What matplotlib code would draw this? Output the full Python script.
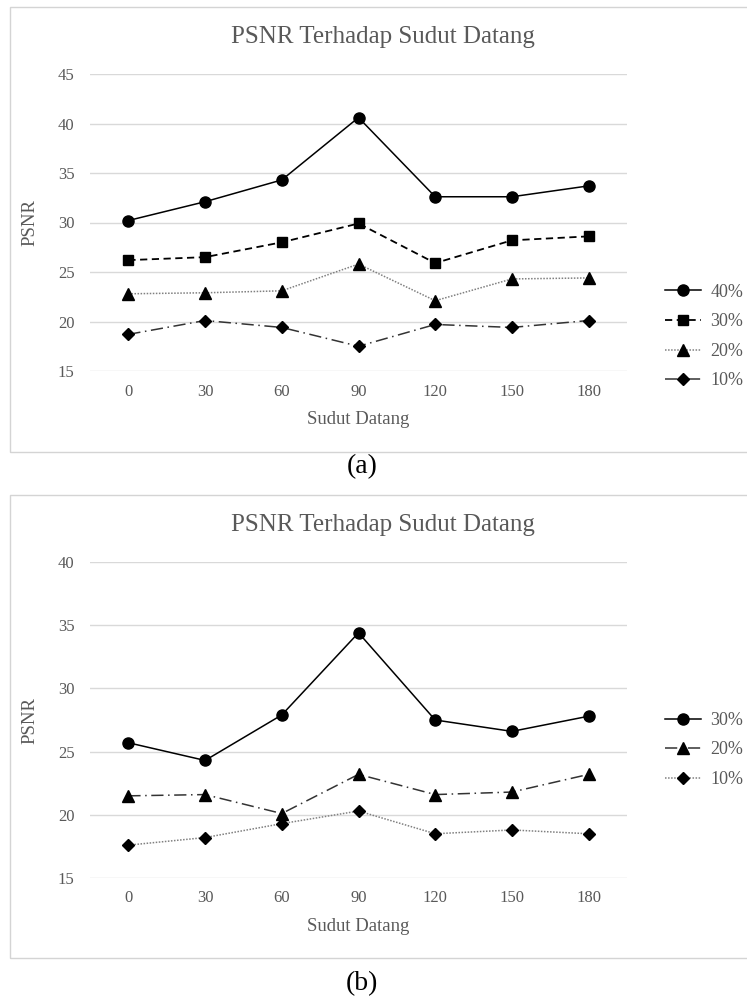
import matplotlib.pyplot as plt
from matplotlib.patches import Rectangle

plt.rcParams['font.family'] = ['Liberation Serif', 'DejaVu Serif']

# Data
SUDUT = ['0', '30', '60', '90', '120', '150', '180']

# (a)
a_40 = [30.2, 32.1, 34.3, 40.6, 32.6, 32.6, 33.7]
a_30 = [26.2, 26.5, 28.0, 29.9, 25.9, 28.2, 28.6]
a_20 = [22.8, 22.9, 23.1, 25.8, 22.1, 24.3, 24.4]
a_10 = [18.7, 20.1, 19.4, 17.5, 19.7, 19.4, 20.1]

# (b)
b_30 = [25.7, 24.3, 27.9, 34.4, 27.5, 26.6, 27.8]
b_20 = [21.5, 21.6, 20.1, 23.2, 21.6, 21.8, 23.2]
b_10 = [17.6, 18.2, 19.3, 20.3, 18.5, 18.8, 18.5]

GRIS = '#595959'
W, H = 747, 1000


def fx(px):
    return px / W


def fy(py):
    return 1 - py / H


def panel(fig, top_px, bot_px, ylim, series, caja, titulo_y, leg_y, cap_y, cap):
    # caja de la grafica
    fig.patches.append(Rectangle((fx(9.5), fy(caja[1])), fx(760) - fx(9.5), fy(caja[0]) - fy(caja[1]),
                                 transform=fig.transFigure, fill=False, edgecolor='#d4d4d4', lw=1.0))
    ax = fig.add_axes([fx(90), fy(bot_px), fx(627) - fx(90), fy(top_px) - fy(bot_px)])
    x = list(range(len(SUDUT)))
    for s in series:
        ax.plot(x, s['y'], color=s['color'], linestyle=s['ls'], lw=s['lw'],
                marker=s['m'], markersize=s['ms'], markerfacecolor='black',
                markeredgecolor='black', label=s['label'])
    ax.set_xlim(-0.5, 6.5)
    ax.set_ylim(*ylim)
    ax.set_yticks(range(ylim[0], ylim[1] + 1, 5))
    ax.set_xticks(x)
    ax.set_xticklabels(SUDUT)
    ax.grid(axis='y', color='#d9d9d9', lw=1.0)
    ax.set_axisbelow(True)
    for sp in ax.spines.values():
        sp.set_visible(False)
    ax.tick_params(length=0, labelsize=12, labelcolor=GRIS)
    ax.tick_params(axis='y', pad=11)
    ax.tick_params(axis='x', pad=9)
    ax.set_xlabel('Sudut Datang', fontsize=13.5, color=GRIS, labelpad=8)
    ax.set_ylabel('PSNR', fontsize=13.5, color=GRIS, labelpad=14)
    fig.text(fx(383), fy(titulo_y), 'PSNR Terhadap Sudut Datang', fontsize=18,
             color=GRIS, ha='center', va='center')
    leg = ax.legend(loc='center left', bbox_to_anchor=(fx(656), fy(leg_y)),
                    bbox_transform=fig.transFigure, frameon=False, fontsize=13,
                    handlelength=2.0, handletextpad=0.5, labelspacing=0.7, borderpad=0)
    for t in leg.get_texts():
        t.set_color(GRIS)
    fig.text(fx(362), fy(cap_y), cap, fontsize=20, color='black', ha='center', va='center')
    return ax


fig = plt.figure(figsize=(7.47, 10), dpi=100)

series_a = [
    dict(y=a_40, label='40%', ls='-', color='black', lw=1.1, m='o', ms=8),
    dict(y=a_30, label='30%', ls=(0, (4, 2.5)), color='black', lw=1.3, m='s', ms=7.5),
    dict(y=a_20, label='20%', ls=(0, (1, 1)), color='#808080', lw=1.1, m='^', ms=8),
    dict(y=a_10, label='10%', ls=(0, (8, 3, 1, 3)), color='#333333', lw=1.1, m='D', ms=6.5),
]
panel(fig, 74, 371, (15, 45), series_a, (7, 452), 37, 336.5, 467, '(a)')

series_b = [
    dict(y=b_30, label='30%', ls='-', color='black', lw=1.1, m='o', ms=8),
    dict(y=b_20, label='20%', ls=(0, (8, 3, 1, 3)), color='#333333', lw=1.1, m='^', ms=8),
    dict(y=b_10, label='10%', ls=(0, (1, 1)), color='#808080', lw=1.1, m='D', ms=6.5),
]
panel(fig, 562, 878, (15, 40), series_b, (495, 958), 525, 750, 984, '(b)')

fig.savefig('out.png', dpi=100, facecolor='white')
